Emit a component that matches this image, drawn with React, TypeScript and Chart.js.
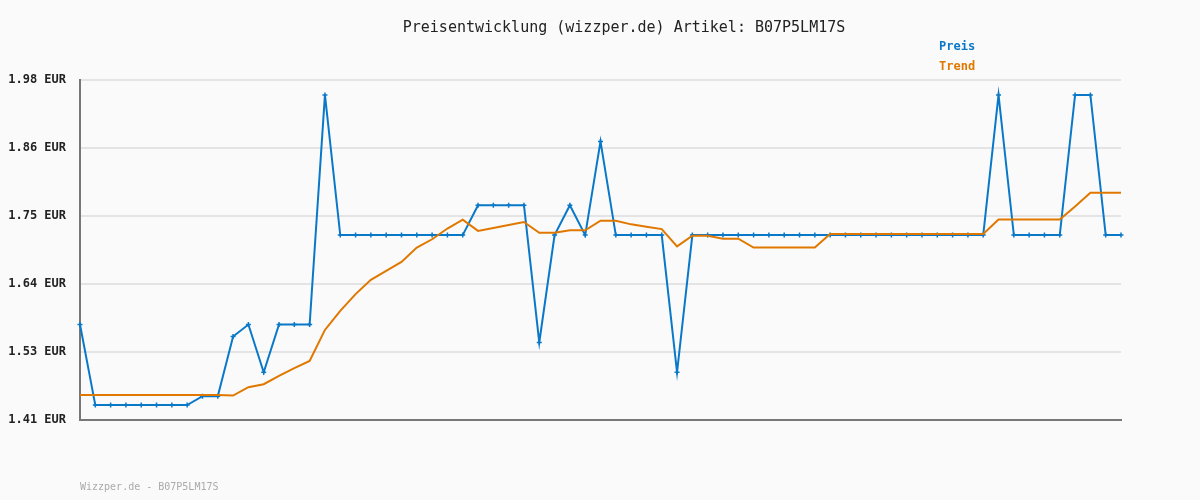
import React, { useEffect, useRef } from "react";
import { Chart, registerables } from "chart.js";

Chart.register(...registerables);

const titleText = "Preisentwicklung (wizzper.de) Artikel: B07P5LM17S";
const footerText = "Wizzper.de - B07P5LM17S";
const legendNames = ["Preis", "Trend"];

const preis = [
  1.57, 1.435, 1.435, 1.435, 1.435, 1.435, 1.435, 1.435, 1.45, 1.45,
  1.55, 1.57, 1.49, 1.57, 1.57, 1.57, 1.955, 1.72, 1.72, 1.72,
  1.72, 1.72, 1.72, 1.72, 1.72, 1.72, 1.77, 1.77, 1.77, 1.77,
  1.54, 1.72, 1.77, 1.72, 1.877, 1.72, 1.72, 1.72, 1.72, 1.49,
  1.72, 1.72, 1.72, 1.72, 1.72, 1.72, 1.72, 1.72, 1.72, 1.72,
  1.72, 1.72, 1.72, 1.72, 1.72, 1.72, 1.72, 1.72, 1.72, 1.72,
  1.955, 1.72, 1.72, 1.72, 1.72, 1.955, 1.955, 1.72, 1.72,
];

const trend = [
  1.452, 1.452, 1.452, 1.452, 1.452, 1.452, 1.452, 1.452, 1.452, 1.452,
  1.451, 1.465, 1.47, 1.484, 1.497, 1.509, 1.561, 1.593, 1.621, 1.645,
  1.66, 1.675, 1.699, 1.713, 1.731, 1.746, 1.727, 1.732, 1.737, 1.742,
  1.724, 1.724, 1.728, 1.728, 1.744, 1.744, 1.738, 1.734, 1.73, 1.701,
  1.719, 1.719, 1.714, 1.714, 1.699, 1.699, 1.699, 1.699, 1.699, 1.722,
  1.722, 1.722, 1.722, 1.722, 1.722, 1.722, 1.722, 1.722, 1.722, 1.722,
  1.746, 1.746, 1.746, 1.746, 1.746, 1.768, 1.791, 1.791, 1.791,
];

const categories = preis.map((_, i) => String(i + 1));

const yMin = 1.41;
const yMax = 1.98;
const tickLabels = ["1.41 EUR", "1.53 EUR", "1.64 EUR", "1.75 EUR", "1.86 EUR", "1.98 EUR"];

const BLUE = "#0a78c8";
const ORANGE = "#e07800";
const MONO = "'DejaVu Sans Mono', 'Liberation Mono', monospace";

const decorPlugin = {
  id: "decor",
  beforeDraw(chart: any) {
    const ctx = chart.ctx;
    ctx.save();
    ctx.fillStyle = "#fafafa";
    ctx.fillRect(0, 0, chart.width, chart.height);
    ctx.restore();
  },
  afterDraw(chart: any) {
    const ctx = chart.ctx;
    ctx.save();
    ctx.textBaseline = "middle";
    ctx.textAlign = "center";
    ctx.fillStyle = "#222";
    ctx.font = `15px ${MONO}`;
    ctx.fillText(titleText, 624, 28);
    ctx.textAlign = "left";
    ctx.font = `bold 12px ${MONO}`;
    ctx.fillStyle = BLUE;
    ctx.fillText(legendNames[0], 939, 47);
    ctx.fillStyle = ORANGE;
    ctx.fillText(legendNames[1], 939, 67);
    ctx.font = `10px ${MONO}`;
    ctx.fillStyle = "#aaa";
    ctx.fillText(footerText, 80, 487);
    ctx.restore();
  },
};

export default function App() {
  const ref = useRef<HTMLCanvasElement>(null);
  useEffect(() => {
    document.body.style.margin = "0";
    const chart = new Chart(ref.current as HTMLCanvasElement, {
      type: "line",
      data: {
        labels: categories,
        datasets: [
          {
            label: legendNames[1],
            data: trend,
            borderColor: ORANGE,
            borderWidth: 2,
            pointRadius: 0,
            tension: 0,
            order: 0,
            clip: false as any,
          },
          {
            label: legendNames[0],
            data: preis,
            borderColor: BLUE,
            backgroundColor: BLUE,
            borderWidth: 2,
            pointStyle: "cross",
            pointRadius: 2.5,
            pointBorderWidth: 1.5,
            pointBorderColor: BLUE,
            tension: 0,
            order: 1,
            clip: false as any,
          },
        ],
      },
      options: {
        responsive: false,
        animation: false,
        layout: { padding: { left: 0, right: 79, top: 80, bottom: 0 } },
        plugins: {
          legend: { display: false },
          title: { display: false },
          tooltip: { enabled: false },
        },
        scales: {
          x: {
            offset: false,
            grid: { display: false, drawTicks: false },
            ticks: { display: false },
            border: { display: true, color: "#777", width: 2 },
            afterFit: (s: any) => {
              s.height = 80;
            },
          },
          y: {
            min: yMin,
            max: yMax,
            afterBuildTicks: (s: any) => {
              const n = tickLabels.length;
              s.ticks = tickLabels.map((_, i) => ({ value: yMin + ((yMax - yMin) * i) / (n - 1) }));
            },
            afterFit: (s: any) => {
              s.width = 80;
            },
            grid: { color: "#e4e4e4", lineWidth: 2, drawTicks: false },
            border: { display: true, color: "#777", width: 2 },
            ticks: {
              padding: 14,
              color: "#222",
              font: { family: MONO, size: 12, weight: "bold" },
              callback: (_v: any, i: number) => tickLabels[i],
            },
          },
        },
      },
      plugins: [decorPlugin],
    });
    return () => chart.destroy();
  }, []);
  return (
    <div style={{ width: 1200, height: 500 }}>
      <canvas ref={ref} width={1200} height={500} style={{ display: "block" }} />
    </div>
  );
}
